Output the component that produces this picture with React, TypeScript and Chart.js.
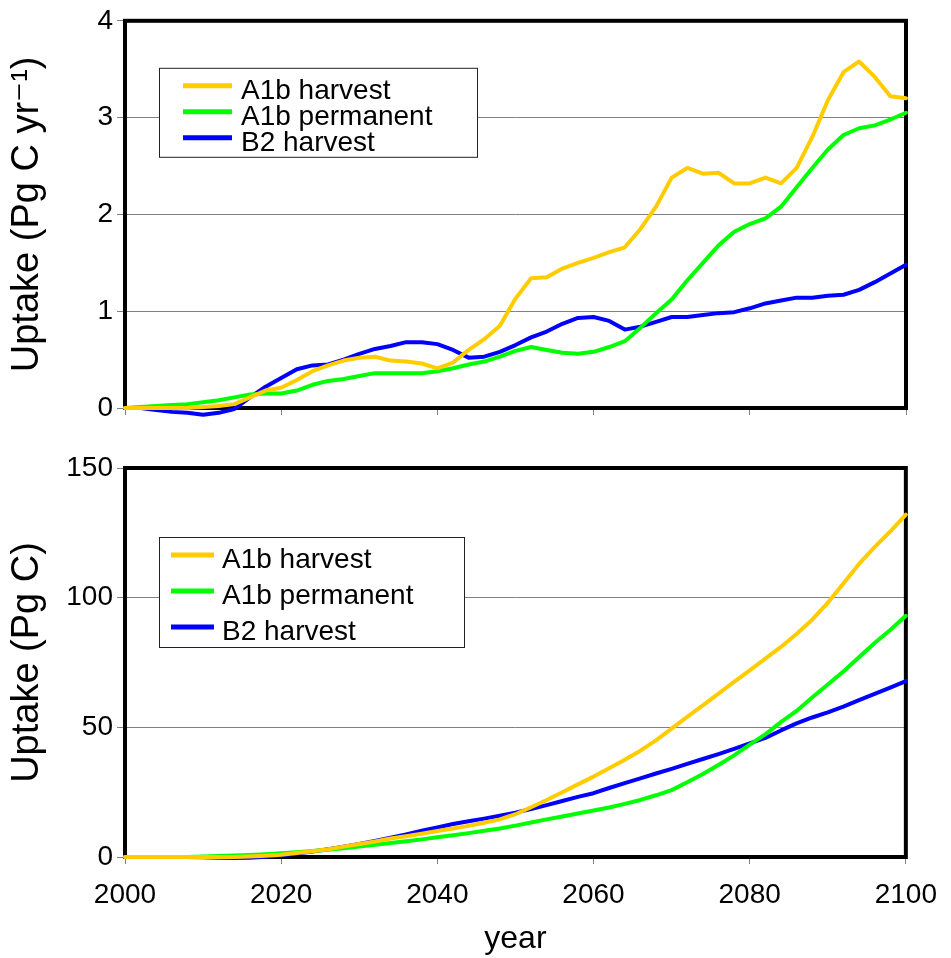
import React, { useEffect, useRef } from "react";
import { Chart, registerables } from "chart.js";

Chart.register(...registerables);

// ---------- data ----------
const years = [
  2000, 2002, 2004, 2006, 2008, 2010, 2012, 2014, 2016, 2018,
  2020, 2022, 2024, 2026, 2028, 2030, 2032, 2034, 2036, 2038,
  2040, 2042, 2044, 2046, 2048, 2050, 2052, 2054, 2056, 2058,
  2060, 2062, 2064, 2066, 2068, 2070, 2072, 2074, 2076, 2078,
  2080, 2082, 2084, 2086, 2088, 2090, 2092, 2094, 2096, 2098, 2100,
];

// annual uptake (Pg C yr-1)
const rateA1bHarvest = [
  0, 0, 0, 0, 0, 0.01, 0.02, 0.04, 0.11, 0.18,
  0.21, 0.29, 0.38, 0.44, 0.49, 0.52, 0.53, 0.49, 0.48, 0.46,
  0.41, 0.47, 0.6, 0.71, 0.85, 1.13, 1.34, 1.35, 1.44, 1.5,
  1.55, 1.61, 1.66, 1.85, 2.08, 2.38, 2.48, 2.42, 2.43, 2.32,
  2.32, 2.38, 2.32, 2.48, 2.8, 3.18, 3.47, 3.58, 3.42, 3.22, 3.2,
];
const rateA1bPermanent = [
  0, 0.01, 0.02, 0.03, 0.04, 0.06, 0.08, 0.11, 0.14, 0.15,
  0.15, 0.18, 0.24, 0.28, 0.3, 0.33, 0.36, 0.36, 0.36, 0.36,
  0.38, 0.41, 0.45, 0.48, 0.53, 0.59, 0.63, 0.6, 0.57, 0.56,
  0.58, 0.63, 0.69, 0.83, 0.98, 1.12, 1.32, 1.5, 1.68, 1.82,
  1.9, 1.96, 2.08, 2.28, 2.48, 2.67, 2.82, 2.89, 2.92, 2.98, 3.05,
];
const rateB2Harvest = [
  0, 0, -0.02, -0.04, -0.05, -0.07, -0.05, -0.01, 0.11, 0.22,
  0.31, 0.4, 0.44, 0.45, 0.5, 0.56, 0.61, 0.64, 0.68, 0.68,
  0.66, 0.6, 0.52, 0.53, 0.58, 0.65, 0.73, 0.79, 0.87, 0.93,
  0.94, 0.9, 0.81, 0.84, 0.89, 0.94, 0.94, 0.96, 0.98, 0.99,
  1.03, 1.08, 1.11, 1.14, 1.14, 1.16, 1.17, 1.22, 1.3, 1.39, 1.48,
];

// cumulative uptake (Pg C)
const cumA1bHarvest = [
  0, 0, 0, 0, 0, 0, 0, 0, 0.2, 0.5,
  0.9, 1.5, 2.2, 3.0, 4.0, 5.0, 6.0, 7.1, 8.0, 9.0,
  10.0, 11.0, 12.0, 13.2, 14.5, 16.5, 19.2, 22.0, 25.0, 28.0,
  31.0, 34.2, 37.5, 41.0, 45.0, 49.5, 54.0, 58.5, 63.0, 67.5,
  72.0, 76.5, 81.0, 86.0, 91.5, 98.0, 105.5, 113.0, 119.5, 125.5, 132.0,
];
const cumA1bPermanent = [
  0, 0, 0, 0, 0, 0.2, 0.4, 0.6, 0.8, 1.1,
  1.4, 1.8, 2.3, 2.8, 3.4, 4.0, 4.7, 5.4, 6.1, 6.8,
  7.6, 8.4, 9.2, 10.1, 11.0, 12.1, 13.3, 14.5, 15.6, 16.8,
  17.9, 19.1, 20.5, 22.0, 23.8, 25.8, 28.8, 32.0, 35.5, 39.2,
  43.3, 47.3, 52.0, 56.3, 61.5, 66.5, 71.5, 77.0, 82.5, 87.5, 93.0,
];
const cumB2Harvest = [
  0, 0, 0, 0, 0, -0.1, -0.3, -0.4, -0.3, 0.1,
  0.6, 1.3, 2.1, 3.0, 4.0, 5.0, 6.2, 7.4, 8.7, 10.1,
  11.4, 12.7, 13.8, 14.8, 15.9, 17.1, 18.5, 20.0, 21.6, 23.2,
  24.6, 26.6, 28.5, 30.3, 32.2, 34.0, 35.9, 37.8, 39.7, 41.7,
  43.8, 45.9, 48.8, 51.5, 53.8, 55.8, 58.0, 60.5, 62.9, 65.3, 67.8,
];

const seriesNames = ["A1b harvest", "A1b permanent", "B2 harvest"];
const seriesColors = ["#FFCC00", "#00FF00", "#0000FF"];

const xTicks = [2000, 2020, 2040, 2060, 2080, 2100];
const rateTicks = [0, 1, 2, 3, 4];
const cumTicks = [0, 50, 100, 150];

const FONT = '"Liberation Sans", Arial, "DejaVu Sans", sans-serif';

// ---------- plugins ----------
const framePlugin = {
  id: "frame",
  beforeDatasetsDraw(chart: any) {
    const { ctx, chartArea: a } = chart;
    ctx.save();
    ctx.strokeStyle = "#000";
    ctx.lineWidth = 4;
    ctx.strokeRect(a.left, a.top, a.right - a.left, a.bottom - a.top);
    ctx.restore();
  },
};

const boxLegendPlugin = {
  id: "boxLegend",
  afterDatasetsDraw(chart: any, _args: any, o: any) {
    if (!o || !o.w) return;
    const { ctx, chartArea: a } = chart;
    const x = a.left + o.dx;
    const y = a.top + o.dy;
    ctx.save();
    ctx.fillStyle = "#fff";
    ctx.fillRect(x, y, o.w, o.h);
    ctx.strokeStyle = "#222";
    ctx.lineWidth = 1;
    ctx.strokeRect(x + 0.5, y + 0.5, o.w, o.h);
    chart.data.datasets.forEach((ds: any, i: number) => {
      const ly = a.top + o.firstY + i * o.gap;
      ctx.strokeStyle = ds.borderColor;
      ctx.lineWidth = 5;
      ctx.beginPath();
      ctx.moveTo(a.left + o.lineX0, ly);
      ctx.lineTo(a.left + o.lineX1, ly);
      ctx.stroke();
      ctx.fillStyle = "#000";
      ctx.font = `${o.fontSize}px ${FONT}`;
      ctx.textBaseline = "alphabetic";
      ctx.textAlign = "left";
      ctx.fillText(ds.label, a.left + o.textX, ly + o.baseline);
    });
    ctx.restore();
  },
};

type PanelProps = {
  top: number;
  height: number;
  padTop: number;
  xHeight: number;
  series: number[][];
  yTicks: number[];
  yTitle: string;
  showXLabels: boolean;
  legend: any;
};

function Panel(p: PanelProps) {
  const ref = useRef<HTMLCanvasElement | null>(null);
  useEffect(() => {
    if (!ref.current) return;
    const datasets = p.series.map((vals, i) => ({
      label: seriesNames[i],
      data: years.map((yr, j) => ({ x: yr, y: vals[j] })),
      borderColor: seriesColors[i],
      backgroundColor: seriesColors[i],
      borderWidth: 4,
      pointRadius: 0,
      tension: 0,
      fill: false,
      clip: false as any,
      borderJoinStyle: "round" as const,
      borderCapStyle: "round" as const,
    }));
    const chart = new Chart(ref.current, {
      type: "line",
      data: { datasets: datasets as any },
      options: {
        animation: false,
        responsive: false,
        maintainAspectRatio: false,
        layout: { padding: { top: p.padTop, right: 45, left: 0, bottom: 0 } },
        plugins: {
          legend: { display: false },
          tooltip: { enabled: false },
          boxLegend: p.legend,
        } as any,
        scales: {
          x: {
            type: "linear",
            min: xTicks[0],
            max: xTicks[xTicks.length - 1],
            afterBuildTicks: (s: any) => {
              s.ticks = xTicks.map((v) => ({ value: v }));
            },
            afterFit: (s: any) => {
              s.height = p.xHeight;
            },
            border: { display: false },
            grid: {
              drawOnChartArea: false,
              drawTicks: true,
              tickLength: 7,
              color: "#808080",
              lineWidth: 1,
            },
            ticks: {
              display: p.showXLabels,
              color: "#000",
              padding: 14,
              maxRotation: 0,
              autoSkip: false,
              font: { family: FONT, size: 28 },
              callback: (v: any) => String(v),
            },
            title: {
              display: p.showXLabels,
              text: "year",
              color: "#000",
              font: { family: FONT, size: 32, lineHeight: 1.2 },
              padding: { top: 0, bottom: 0 },
            },
          },
          y: {
            type: "linear",
            min: p.yTicks[0],
            max: p.yTicks[p.yTicks.length - 1],
            afterBuildTicks: (s: any) => {
              s.ticks = p.yTicks.map((v) => ({ value: v }));
            },
            afterFit: (s: any) => {
              s.width = 125;
            },
            border: { display: false },
            grid: {
              drawOnChartArea: true,
              drawTicks: true,
              tickLength: 8,
              color: "#808080",
              lineWidth: 1,
            },
            ticks: {
              color: "#000",
              padding: 4,
              font: { family: FONT, size: 28 },
              callback: (v: any) => String(v),
            },
            title: {
              display: true,
              text: p.yTitle,
              color: "#000",
              font: { family: FONT, size: 38, lineHeight: 1.2 },
              padding: { top: 5, bottom: 0 },
            },
          },
        },
      },
      plugins: [framePlugin, boxLegendPlugin],
    });
    return () => chart.destroy();
  }, []);
  return (
    <div style={{ position: "absolute", left: 0, top: p.top, width: 951, height: p.height }}>
      <canvas ref={ref} width={951} height={p.height} style={{ display: "block" }} />
    </div>
  );
}

export default function App() {
  return (
    <div style={{ position: "absolute", left: 0, top: 0, width: 951, height: 958, background: "#fff" }}>
      <Panel
        top={0}
        height={440}
        padTop={20}
        xHeight={32}
        series={[rateA1bHarvest, rateA1bPermanent, rateB2Harvest]}
        yTicks={rateTicks}
        yTitle={"Uptake (Pg C yr\u207B\u00B9)"}
        showXLabels={false}
        legend={{ dx: 34, dy: 47, w: 318, h: 89, lineX0: 58, lineX1: 107, firstY: 65, gap: 26, textX: 116, baseline: 13, fontSize: 28 }}
      />
      <Panel
        top={440}
        height={518}
        padTop={28}
        xHeight={101}
        series={[cumA1bHarvest, cumA1bPermanent, cumB2Harvest]}
        yTicks={cumTicks}
        yTitle={"Uptake (Pg C)"}
        showXLabels={true}
        legend={{ dx: 34, dy: 69, w: 305, h: 110, lineX0: 46, lineX1: 89, firstY: 87, gap: 36, textX: 97, baseline: 13, fontSize: 28 }}
      />
    </div>
  );
}
